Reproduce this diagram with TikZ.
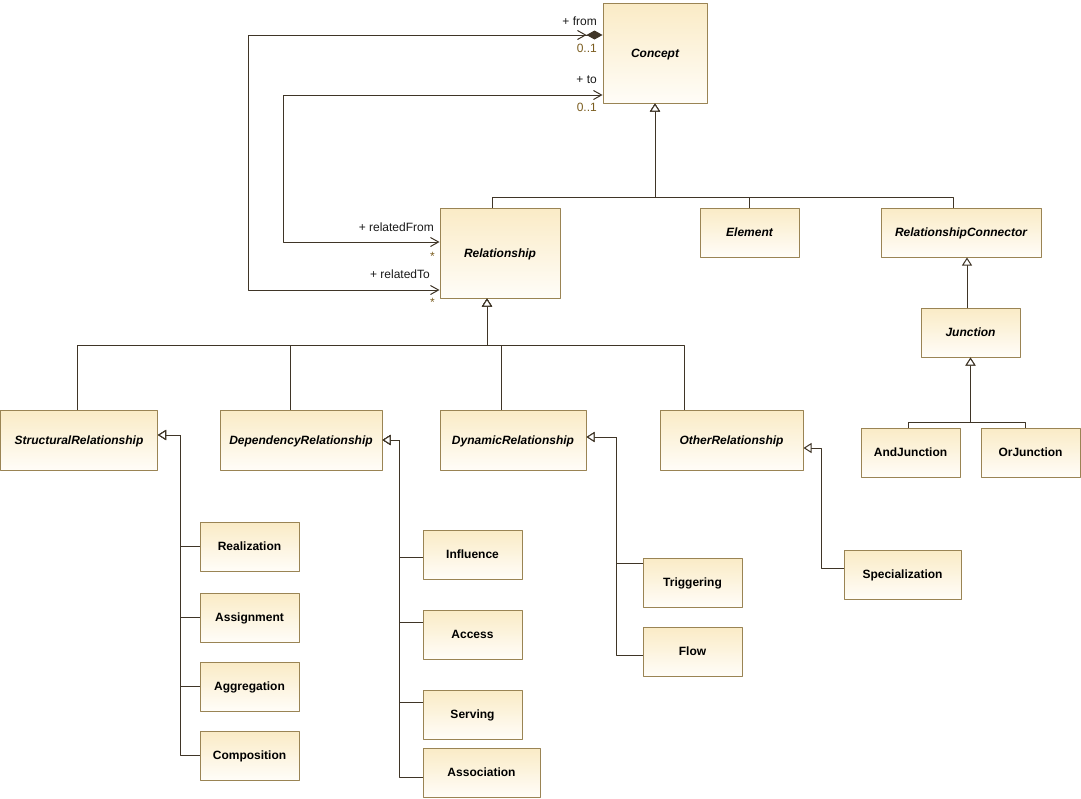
\documentclass[tikz,border=0pt]{standalone}
\usepackage{fontspec}
\setmainfont{Liberation Sans}
\usetikzlibrary{arrows.meta,calc}
\definecolor{clsline}{HTML}{3F3527}
\definecolor{clsborder}{HTML}{9A8454}
\definecolor{clstop}{HTML}{FAEBC6}
\definecolor{clsbot}{HTML}{FFFDF8}
\definecolor{multcol}{HTML}{7A5C1E}
\begin{document}
\begin{tikzpicture}[x=1pt,y=-1pt,line join=round,
	font=\fontsize{12}{14}\selectfont,
	cls/.style={draw=clsborder,line width=1pt,top color=clstop,bottom color=clsbot,minimum width=99pt,minimum height=49pt,inner sep=0pt,text height=8.5pt,text depth=0pt,font=\fontsize{12}{14}\selectfont\bfseries},
	acls/.style={cls,font=\fontsize{12}{14}\selectfont\bfseries\itshape},
	gen/.style={draw=clsline,line width=1pt,-{Triangle[open,fill=white,length=8pt,width=10pt]}},
	asc/.style={draw=clsline,line width=1pt},
	barb/.tip={Straight Barb[length=8pt,width=9pt]},
	role/.style={inner sep=0pt,anchor=east,text=black!90},
	mult/.style={role,text=multcol}]
	\useasboundingbox (0,0) rectangle (1081,798);

	\node[acls,minimum width=104pt,minimum height=100pt] (con) at (655,53) {Concept};
	\node[acls,minimum width=120pt,minimum height=90pt] (rel) at (500,253) {Relationship};
	\node[acls] (ele) at (749.5,232.5) {Element};
	\node[acls,minimum width=160pt] (rcon) at (961,232.5) {RelationshipConnector};
	\node[acls] (jun) at (970.5,332.5) {Junction};
	\node[cls] (andj) at (910.5,452.5) {AndJunction};
	\node[cls] (orj) at (1030.5,452.5) {OrJunction};

	\node[acls,minimum width=157pt,minimum height=60pt] (srel) at (79,440) {StructuralRelationship};
	\node[acls,minimum width=162pt,minimum height=60pt] (drel) at (301,440) {DependencyRelationship};
	\node[acls,minimum width=146pt,minimum height=60pt] (dyrel) at (513,440) {DynamicRelationship};
	\node[acls,minimum width=143pt,minimum height=60pt] (orel) at (731.5,440) {OtherRelationship};

	\node[cls] (real) at (249.5,546.5) {Realization};
	\node[cls] (assi) at (249.5,617.5) {Assignment};
	\node[cls] (aggr) at (249.5,686.5) {Aggregation};
	\node[cls] (comp) at (249.5,755.5) {Composition};
	\node[cls] (infl) at (472.5,554.5) {Influence};
	\node[cls] (acc) at (472.5,634.5) {Access};
	\node[cls] (serv) at (472.5,714.5) {Serving};
	\node[cls,minimum width=117pt] (asso) at (481.5,772.5) {Association};
	\node[cls] (trig) at (692.5,582.5) {Triggering};
	\node[cls] (flow) at (692.5,651.5) {Flow};
	\node[cls,minimum width=117pt] (spec) at (902.5,574.5) {Specialization};

	\coordinate (cbus) at (655,197);
	\draw[gen] ([xshift=-8pt]rel.north) |- (cbus) -- (con.south);
	\draw[gen] (ele.north) |- (cbus) -- (con.south);
	\draw[gen] ([xshift=-8pt]rcon.north) |- (cbus) -- (con.south);

	\coordinate (rbus) at (487,345);
	\draw[gen] ([xshift=-2pt]srel.north) |- (rbus) -- ([xshift=-13pt]rel.south);
	\draw[gen] ([xshift=-11pt]drel.north) |- (rbus) -- ([xshift=-13pt]rel.south);
	\draw[gen] ([xshift=-12pt]dyrel.north) |- (rbus) -- ([xshift=-13pt]rel.south);
	\draw[gen] ([xshift=-47.5pt]orel.north) |- (rbus) -- ([xshift=-13pt]rel.south);

	\draw[gen] ([xshift=-3.5pt]jun.north) -- ([xshift=6pt]rcon.south);
	\coordinate (jbus) at (970.5,422);
	\draw[gen] ([xshift=-2.5pt]andj.north) |- (jbus) -- (jun.south);
	\draw[gen] ([xshift=-5.5pt]orj.north) |- (jbus) -- (jun.south);

	\draw[gen] (real.west) -- ++(-19,0) |- ([yshift=5pt]srel.east);
	\draw[gen] (assi.west) -- ++(-19,0) |- ([yshift=5pt]srel.east);
	\draw[gen] (aggr.west) -- ++(-19,0) |- ([yshift=5pt]srel.east);
	\draw[gen] (comp.west) -- ++(-19,0) |- ([yshift=5pt]srel.east);

	\draw[gen] ([yshift=-2.5pt]infl.west) -- ++(-23,0) |- (drel.east);
	\draw[gen] ([yshift=12.5pt]acc.west) -- ++(-23,0) |- (drel.east);
	\draw[gen] ([yshift=12.5pt]serv.west) -- ++(-23,0) |- (drel.east);
	\draw[gen] ([yshift=-4.5pt]asso.west) -- ++(-23,0) |- (drel.east);

	\draw[gen] ([yshift=19.5pt]trig.west) -- ++(-26,0) |- ([yshift=3pt]dyrel.east);
	\draw[gen] ([yshift=-3.5pt]flow.west) -- ++(-26,0) |- ([yshift=3pt]dyrel.east);

	\draw[gen] ([yshift=6.5pt]spec.west) -- ++(-22,0) |- ([yshift=-8pt]orel.east);

	\draw[asc,{barb[]}-{barb[]Diamond[length=16pt,width=9pt]}] ([yshift=-37pt]rel.west) -- ++(-191,0) |- ([yshift=18pt]con.west);
	\draw[asc,{barb[]}-{barb[]}] ([yshift=11pt]rel.west) -- ++(-156,0) |- ([yshift=-42pt]con.west);

	\node[role] (rfrom) at (597,21) {+ from};
	\node[mult] (mfrom) at (597,48) {0..1};
	\node[role] (rto) at (597,79.5) {+ to};
	\node[mult] (mto) at (597,107.5) {0..1};
	\node[role] (rrfrom) at (434,227.5) {+ relatedFrom};
	\node[mult] (mrfrom) at (435,256) {*};
	\node[role] (rrto) at (430,274.5) {+ relatedTo};
	\node[mult] (mrto) at (435,302) {*};
\end{tikzpicture}
\end{document}
